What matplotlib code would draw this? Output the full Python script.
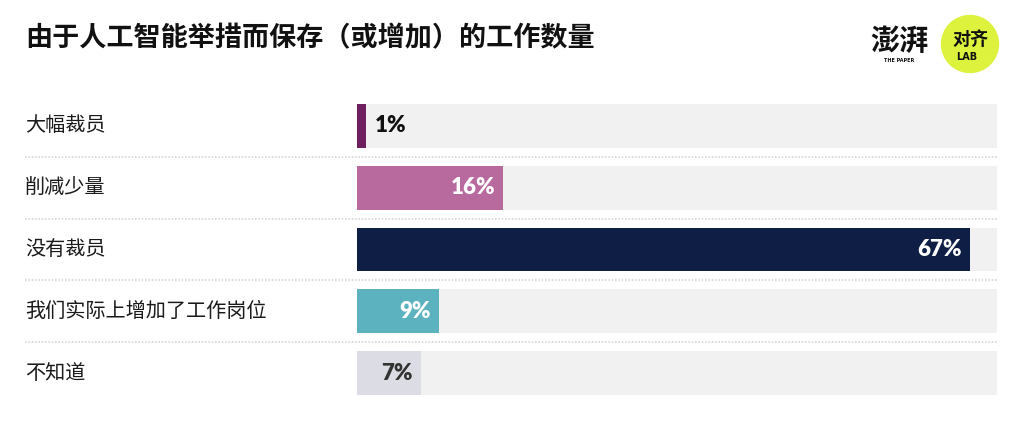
import matplotlib.pyplot as plt
from matplotlib.patches import Circle
import matplotlib.transforms as mtransforms

plt.rcParams['font.family'] = ['Noto Sans CJK SC', 'DejaVu Sans']

# --- data ---
title = "由于人工智能举措而保存（或增加）的工作数量"
categories = ["大幅裁员", "削减少量", "没有裁员", "我们实际上增加了工作岗位", "不知道"]
values = [1, 16, 67, 9, 7]
colors = ["#6e1f5e", "#b86a9f", "#0e1e45", "#5cb2be", "#dcdde4"]
label_colors = ["#111111", "white", "white", "white", "#333333"]
x_max = 70

W, H = 1024, 422
fig = plt.figure(figsize=(W / 100, H / 100), dpi=100)
fig.patch.set_facecolor("white")

# bar area in pixels: x 357..997, rows centred 126..373
left, right = 357, 997
top, bottom = 95, 404
ax = fig.add_axes([left / W, 1 - bottom / H, (right - left) / W, (bottom - top) / H])
ax.set_xlim(0, x_max)
ax.set_ylim(len(categories) - 0.5, -0.5)
ax.axis("off")

rows = list(range(len(categories)))
bar_h = 0.71
ax.barh(rows, [x_max] * len(rows), height=bar_h, color="#f1f1f1", left=0)
ax.barh(rows, values, height=bar_h, color=colors)

lab_x = (25 - left) / (right - left)
trans = mtransforms.blended_transform_factory(ax.transAxes, ax.transData)
pct_font = ["Lato", "DejaVu Sans"]
for i, (cat, v) in enumerate(zip(categories, values)):
    ax.text(lab_x, i, cat, transform=trans, ha="left", va="center",
            fontsize=14.5, color="#1a1a1a")
    if v < 3:
        ax.text(v + 0.9, i, f"{v}%", ha="left", va="center", fontsize=16,
                fontweight="heavy", family=pct_font, color=label_colors[i])
    else:
        ax.text(v - 0.9, i, f"{v}%", ha="right", va="center", fontsize=16,
                fontweight="heavy", family=pct_font, color=label_colors[i])

# dotted separators
for i in rows[:-1]:
    ax.axhline(i + 0.5, xmin=lab_x, xmax=1, color="#d6d6d6", lw=1.2,
               ls=(0, (1, 1)), clip_on=False)

# title
fig.text(25 / W, 1 - 38 / H, title, ha="left", va="center", fontsize=19.5,
         fontweight="bold", color="#111111")

# logos
fig.text(899 / W, 1 - 41 / H, "澎湃", ha="center", va="center", fontsize=21,
         fontweight="heavy", color="#111111")
fig.text(899 / W, 1 - 60 / H, "THE PAPER", ha="center", va="center", fontsize=3.5,
         fontweight="bold", color="#111111", family=["DejaVu Sans"])
logo_ax = fig.add_axes([940 / W, 1 - 74 / H, 60 / W, 60 / H])
logo_ax.set_xlim(-1, 1)
logo_ax.set_ylim(-1, 1)
logo_ax.set_aspect("equal")
logo_ax.axis("off")
logo_ax.add_patch(Circle((0, 0), 0.95, color="#dcf23c"))
logo_ax.text(0, 0.15, "对齐", ha="center", va="center", fontsize=13,
             fontweight="heavy", color="#111111")
logo_ax.text(-0.1, -0.42, "LAB", ha="center", va="center", fontsize=7,
             fontweight="bold", color="#111111", family=["DejaVu Sans"])

fig.savefig("out.png", dpi=100, facecolor="white")
